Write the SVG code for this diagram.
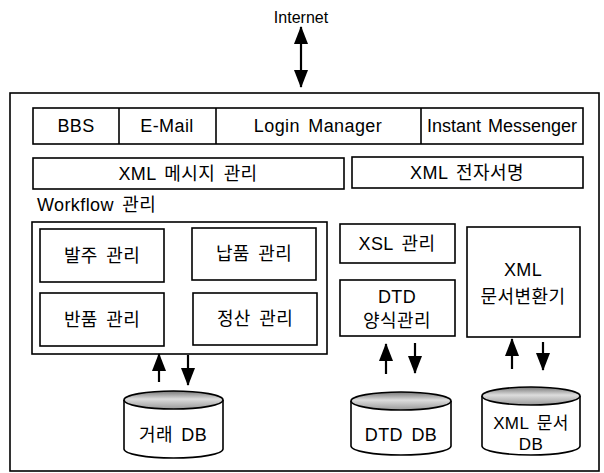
<svg xmlns="http://www.w3.org/2000/svg" width="604" height="473" viewBox="0 0 604 473">
<defs>
<style>
.box{fill:#fff;stroke:#000;stroke-width:1.6}
.t{font-family:"Liberation Sans","Noto Sans CJK KR",Arial,sans-serif;font-size:18px;letter-spacing:0.4px;word-spacing:3px;fill:#000;text-anchor:middle;dominant-baseline:central}
.tl{font-family:"Liberation Sans","Noto Sans CJK KR",Arial,sans-serif;font-size:18px;letter-spacing:0.4px;word-spacing:3px;fill:#000}
.ln{stroke:#000;stroke-width:2.2;fill:none}
.cyl{fill:#fff;stroke:#000;stroke-width:1.6}
.lid{fill:url(#lidg);stroke:#000;stroke-width:1.6}
</style>
<linearGradient id="lidg" x1="0" y1="0" x2="0" y2="1">
<stop offset="0" stop-color="#777"/>
<stop offset="0.45" stop-color="#ddd"/>
<stop offset="1" stop-color="#999"/>
</linearGradient>
<marker id="ah" viewBox="0 0 18 14" refX="17" refY="7" markerWidth="18" markerHeight="14" markerUnits="userSpaceOnUse" orient="auto">
<path d="M0,0 L18,7 L0,14 Z" fill="#000"/>
</marker>
</defs>

<g id="internet">
<text class="t" x="301" y="17" style="font-size:16px;letter-spacing:0">Internet</text>
</g>

<g id="system">
<rect class="box" x="10" y="93" width="589" height="378"/>
</g>

<g id="toprow">
<rect class="box" x="33" y="108" width="550" height="36"/>
<line class="box" x1="119" y1="108" x2="119" y2="144"/>
<line class="box" x1="216" y1="108" x2="216" y2="144"/>
<line class="box" x1="421" y1="108" x2="421" y2="144"/>
<text class="t" x="76" y="126">BBS</text>
<text class="t" x="167" y="126">E-Mail</text>
<text class="t" x="318" y="126">Login Manager</text>
<text class="t" x="502" y="126" style="letter-spacing:0;word-spacing:2px">Instant Messenger</text>
</g>

<g id="xmlmsg">
<rect class="box" x="33" y="158" width="311" height="31"/>
<text class="t" x="188" y="174">XML 메시지 관리</text>
</g>
<g id="xmlsign">
<rect class="box" x="352" y="157" width="231" height="31"/>
<text class="t" x="467" y="173">XML 전자서명</text>
</g>

<g id="workflow">
<text class="tl" x="37" y="211">Workflow 관리</text>
<rect class="box" x="32" y="222" width="295" height="132"/>
</g>
<g id="order"><rect class="box" x="40" y="229" width="124" height="53"/><text class="t" x="102" y="256">발주 관리</text></g>
<g id="delivery"><rect class="box" x="192" y="228" width="124" height="52"/><text class="t" x="254" y="254">납품 관리</text></g>
<g id="return"><rect class="box" x="40" y="293" width="124" height="53"/><text class="t" x="102" y="320">반품 관리</text></g>
<g id="settle"><rect class="box" x="193" y="293" width="124" height="52"/><text class="t" x="255" y="319">정산 관리</text></g>

<g id="xsl"><rect class="box" x="340" y="224" width="115" height="39"/><text class="t" x="397" y="244">XSL 관리</text></g>
<g id="dtd"><rect class="box" x="340" y="280" width="115" height="56"/><text class="t" x="397" y="297">DTD</text><text class="t" x="397" y="321">양식관리</text></g>
<g id="conv"><rect class="box" x="467" y="227" width="113" height="110"/><text class="t" x="523" y="270">XML</text><text class="t" x="523" y="297">문서변환기</text></g>

<g id="db1">
<path class="cyl" d="M124,400 L124,449 A49.5,9 0 0 0 223,449 L223,400"/>
<ellipse class="lid" cx="173.5" cy="400" rx="49.5" ry="9"/>
<text class="t" x="173" y="435">거래 DB</text>
</g>
<g id="db2">
<path class="cyl" d="M351,401 L351,446 A50,9 0 0 0 451,446 L451,401"/>
<ellipse class="lid" cx="401" cy="401" rx="50" ry="9"/>
<text class="t" x="401" y="435">DTD DB</text>
</g>
<g id="db3">
<path class="cyl" d="M482,396 L482,446 A49,9 0 0 0 580,446 L580,396"/>
<ellipse class="lid" cx="531" cy="396" rx="49" ry="9"/>
<text class="t" x="531" y="423" style="font-size:17px">XML 문서</text>
<text class="t" x="531" y="444" style="font-size:17px">DB</text>
</g>

<g id="connectors">
<line class="ln" x1="301" y1="57" x2="301" y2="27" marker-end="url(#ah)"/>
<line class="ln" x1="301" y1="57" x2="301" y2="87" marker-end="url(#ah)"/>
<line class="ln" x1="159" y1="382" x2="159" y2="354" marker-end="url(#ah)"/>
<line class="ln" x1="188" y1="355" x2="188" y2="385" marker-end="url(#ah)"/>
<line class="ln" x1="386" y1="374" x2="386" y2="344" marker-end="url(#ah)"/>
<line class="ln" x1="415" y1="343" x2="415" y2="373" marker-end="url(#ah)"/>
<line class="ln" x1="512" y1="369" x2="512" y2="339" marker-end="url(#ah)"/>
<line class="ln" x1="543" y1="342" x2="543" y2="370" marker-end="url(#ah)"/>
</g>
</svg>
